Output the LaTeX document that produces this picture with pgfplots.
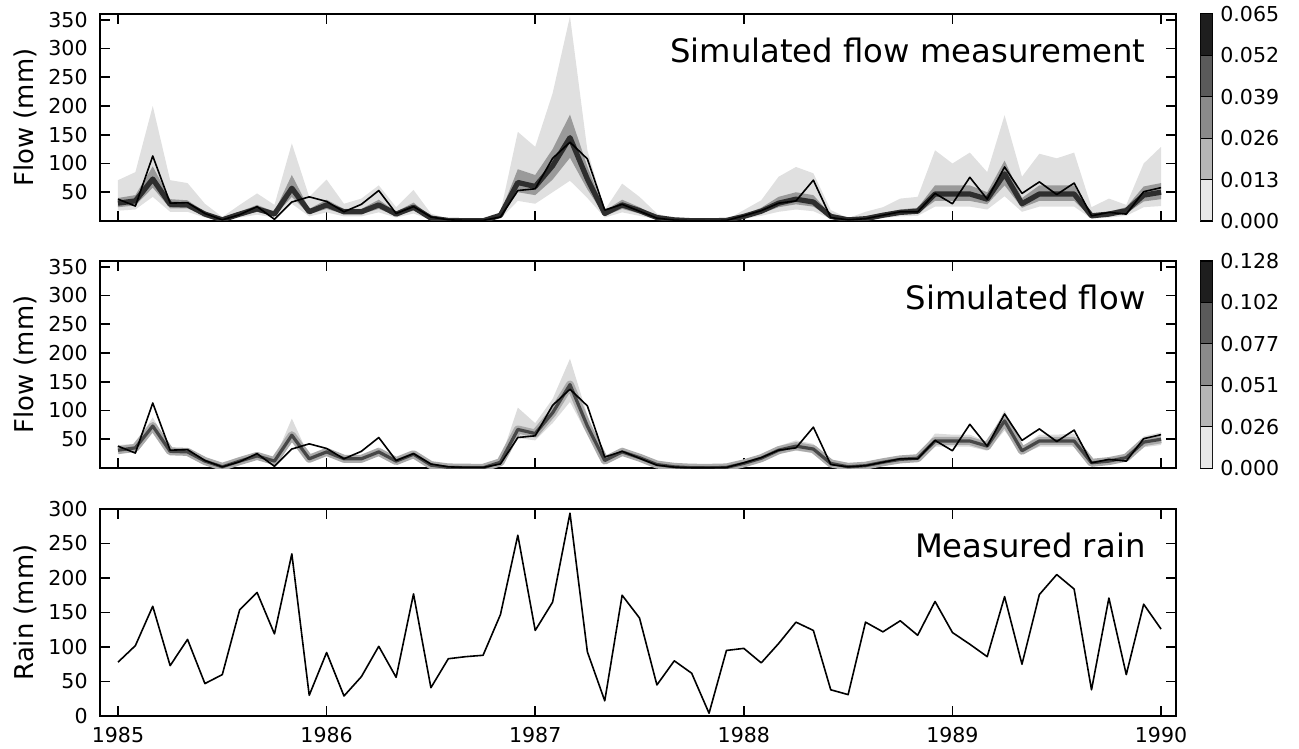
\documentclass[border=0pt]{standalone}
\usepackage{fontspec}
\setmainfont{DejaVu Sans}
\usepackage{pgfplots}
\usepackage{pgfplotstable}
\pgfplotsset{compat=1.18}
\usepgfplotslibrary{fillbetween}

\definecolor{bandlight}{HTML}{E0E0E0}
\definecolor{bandmid}{HTML}{9A9A9A}
\definecolor{bandcore}{HTML}{2E2E2E}
\definecolor{band2light}{HTML}{DCDCDC}
\definecolor{band2halo}{HTML}{ABABAB}
\definecolor{band2core}{HTML}{474747}
\definecolor{cbA}{HTML}{E8E8E8}
\definecolor{cbB}{HTML}{B6B6B6}
\definecolor{cbC}{HTML}{8A8A8A}
\definecolor{cbD}{HTML}{5A5A5A}
\definecolor{cbE}{HTML}{1E1E1E}

% m: month index from Jan 1985; obs: measured flow; med: simulated median;
% hiA/loA, hiB/loB: bands of simulated flow measurement; hiC/loC: band of simulated flow
\pgfplotstableread{
m obs med hiA loA hiB loB hiC loC rain
0 38 31 71 18 40 24 40 25 78
1 26 35 85 20 45 27 42 28 102
2 113 73 200 42 95 58 88 62 159
3 31 29 71 16 38 22 35 24 73
4 32 28 66 16 36 22 34 23 111
5 13 12 30 6 16 9 15 9 47
6 2 2 7 1 3 1.5 3 1.5 60
7 11 12 28 6 16 9 15 9 154
8 25 21 48 11 28 16 27 17 179
9 3 12 28 6 16 9 15 9 119
10 33 57 135 30 80 42 86 45 235
11 42 16 42 8 21 12 20 13 30
12 34 28 72 15 37 21 34 23 92
13 16 16 30 8 21 12 20 13 29
14 29 16 39 8 21 12 20 13 57
15 53 28 62 15 37 21 36 23 101
16 13 12 24 6 16 9 15 9 56
17 25 24 54 13 32 18 30 19 177
18 7 5 13 2 7 4 6 4 41
19 2 1 4 0.5 1.5 0.7 1.5 0.7 83
20 1 0.5 2 0.2 0.8 0.3 0.8 0.3 86
21 1 0.3 2 0.1 0.5 0.2 0.5 0.2 88
22 7 10 15 4 14 7 14 7 147
23 53 67 155 35 90 50 105 52 262
24 56 60 129 30 80 45 78 48 124
25 109 96 222 50 125 72 120 78 165
26 137 145 356 70 185 110 190 115 294
27 108 73 123 40 95 55 92 58 93
28 19 13 19 6 18 9 17 10 22
29 29 28 65 15 37 21 36 22 175
30 17 18 42 9 24 13 23 14 142
31 5 6 13 3 8 4 8 4.5 45
32 1.5 2 4 1 3 1.5 3 1.5 80
33 0.5 0.5 1 0.2 0.8 0.3 0.8 0.3 62
34 0.3 0.3 1 0.1 0.5 0.2 0.5 0.2 4
35 1 1 2 0.5 1.5 0.7 1.5 0.7 95
36 9 8 19 4 11 6 10 6 98
37 18 17 36 9 23 13 21 13 77
38 31 31 77 16 42 24 38 25 105
39 35 38 94 20 50 29 48 30 136
40 71 33 83 17 45 25 42 26 124
41 6 8 19 4 11 6 10 6 38
42 2 2 5 1 3 1.5 3 1.5 31
43 4 4 16 2 6 3 5 3 136
44 10 10 24 5 14 7 13 8 122
45 16 15 39 8 20 11 19 12 138
46 16 17 42 9 23 13 21 13 117
47 48 47 123 25 62 35 60 37 166
48 30 47 100 25 62 35 58 37 121
49 76 47 119 25 62 35 58 37 104
50 38 38 85 20 50 29 46 30 86
51 94 82 184 43 105 62 100 65 173
52 48 30 77 16 40 23 37 24 75
53 68 47 117 25 62 35 58 37 176
54 46 47 109 25 62 35 58 37 205
55 66 47 119 25 62 35 60 37 184
56 9 9 24 4 12 6 11 7 38
57 15 12 39 6 16 9 15 9 171
58 12 18 28 9 24 13 22 14 60
59 51 45 100 24 60 34 55 36 162
60 58 50 129 26 66 38 62 40 126
}\flowdata

\tikzset{
  paneltitle/.style={anchor=east, inner sep=0pt, font=\fontsize{16.2}{19}\selectfont},
  seg/.style={draw=black, line width=0.5bp},
}

\pgfplotsset{
  panel/.style={
    scale only axis, width=538bp, height=103.5bp,
    anchor=north west,
    xmin=-1.035, xmax=60.86,
    axis line style={line width=1bp},
    tick align=inside, major tick length=5bp,
    every tick/.style={line width=0.8bp, black},
    xtick={0,12,...,60},
    /pgf/number format/assume math mode=true,
    tick label style={font=\fontsize{10.3}{12}\selectfont},
    yticklabel style={inner sep=0pt, xshift=-6bp},
    xticklabel style={inner sep=0pt, yshift=-5.5bp},
    ylabel style={at={(axis description cs:0,0.5)},
      anchor=north, inner sep=0pt, yshift=43.5bp, font=\fontsize{13}{15}\selectfont},
  },
  flowpanel/.style={panel, ymin=0, ymax=360, ytick={50,100,...,350},
    xticklabels={}, ylabel={Flow (mm)}},
  cbar/.style={
    scale only axis, width=5.75bp, height=103.5bp, anchor=north west,
    xmin=0, xmax=1, xtick=\empty,
    axis line style={line width=1bp},
    major tick length=0pt,
    yticklabel pos=right,
    scaled y ticks=false,
    /pgf/number format/assume math mode=true,
    tick label style={font=\fontsize{10.3}{12}\selectfont},
    yticklabel style={inner sep=0pt, xshift=4bp},
  },
}

\begin{document}
\begin{tikzpicture}

% simulated flow measurement
\begin{axis}[flowpanel, at={(0bp,0bp)}]
  \addplot[draw=none, name path=aU] table[x=m, y=hiA] {\flowdata};
  \addplot[draw=none, name path=aL] table[x=m, y=loA] {\flowdata};
  \addplot[fill=bandlight, draw=none] fill between[of=aU and aL];
  \addplot[draw=none, name path=bU] table[x=m, y=hiB] {\flowdata};
  \addplot[draw=none, name path=bL] table[x=m, y=loB] {\flowdata};
  \addplot[fill=bandmid, draw=none] fill between[of=bU and bL];
  \addplot[bandcore, line width=2.6bp, line join=round] table[x=m, y=med] {\flowdata};
  \addplot[black, line width=0.8bp, line join=round] table[x=m, y=obs] {\flowdata};
  \node[paneltitle] at (rel axis cs:0.972,0.826) {Simulated flow measurement};
\end{axis}

% simulated flow
\begin{axis}[flowpanel, at={(0bp,-123.5bp)}]
  \addplot[draw=none, name path=cU] table[x=m, y=hiC] {\flowdata};
  \addplot[draw=none, name path=cL] table[x=m, y=loC] {\flowdata};
  \addplot[fill=band2light, draw=none] fill between[of=cU and cL];
  \addplot[band2halo, line width=4bp, line join=round] table[x=m, y=med] {\flowdata};
  \addplot[band2core, line width=1.6bp, line join=round] table[x=m, y=med] {\flowdata};
  \addplot[black, line width=0.8bp, line join=round] table[x=m, y=obs] {\flowdata};
  \node[paneltitle] at (rel axis cs:0.972,0.826) {Simulated flow};
\end{axis}

% measured rain
\begin{axis}[panel, at={(0bp,-247.5bp)}, ymin=0, ymax=300, ytick={0,50,...,300},
    xticklabels={1985,1986,1987,1988,1989,1990}, ylabel={Rain (mm)}]
  \addplot[black, line width=0.8bp, line join=round] table[x=m, y=rain] {\flowdata};
  \node[paneltitle] at (rel axis cs:0.972,0.826) {Measured rain};
\end{axis}

% colour scales
\begin{axis}[cbar, at={(550.25bp,0bp)}, ymin=0, ymax=0.065,
    ytick={0,0.013,0.026,0.039,0.052,0.065},
    yticklabels={0.000,0.013,0.026,0.039,0.052,0.065}]
  \addplot[seg, fill=cbA] coordinates {(0,0) (1,0) (1,0.013) (0,0.013) (0,0)};
  \addplot[seg, fill=cbB] coordinates {(0,0.013) (1,0.013) (1,0.026) (0,0.026) (0,0.013)};
  \addplot[seg, fill=cbC] coordinates {(0,0.026) (1,0.026) (1,0.039) (0,0.039) (0,0.026)};
  \addplot[seg, fill=cbD] coordinates {(0,0.039) (1,0.039) (1,0.052) (0,0.052) (0,0.039)};
  \addplot[seg, fill=cbE] coordinates {(0,0.052) (1,0.052) (1,0.065) (0,0.065) (0,0.052)};
\end{axis}

\begin{axis}[cbar, at={(550.25bp,-123.5bp)}, ymin=0, ymax=0.128,
    ytick={0,0.0256,0.0512,0.0768,0.1024,0.128},
    yticklabels={0.000,0.026,0.051,0.077,0.102,0.128}]
  \addplot[seg, fill=cbA] coordinates {(0,0) (1,0) (1,0.0256) (0,0.0256) (0,0)};
  \addplot[seg, fill=cbB] coordinates {(0,0.0256) (1,0.0256) (1,0.0512) (0,0.0512) (0,0.0256)};
  \addplot[seg, fill=cbC] coordinates {(0,0.0512) (1,0.0512) (1,0.0768) (0,0.0768) (0,0.0512)};
  \addplot[seg, fill=cbD] coordinates {(0,0.0768) (1,0.0768) (1,0.1024) (0,0.1024) (0,0.0768)};
  \addplot[seg, fill=cbE] coordinates {(0,0.1024) (1,0.1024) (1,0.128) (0,0.128) (0,0.1024)};
\end{axis}

\pgfresetboundingbox
\useasboundingbox (-50bp,7bp) rectangle (599.5bp,-367.5bp);
\end{tikzpicture}
\end{document}
